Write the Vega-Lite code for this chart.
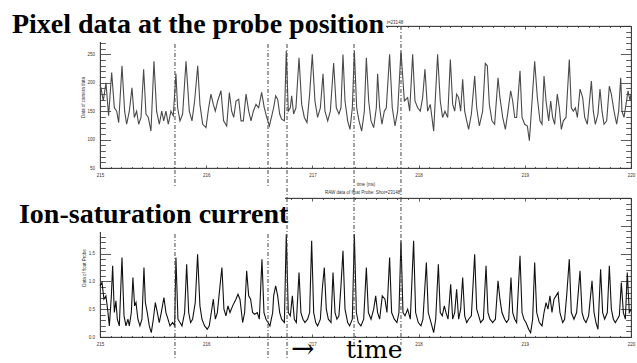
{
  "$schema": "https://vega.github.io/schema/vega-lite/v6.json",
  "padding": 0,
  "autosize": {"type": "pad"},
  "background": "white",
  "bounds": "flush",
  "spacing": 30,
  "config": {
    "view": {"stroke": "#333", "strokeWidth": 0.8},
    "axis": {"labelFont": "Liberation Sans", "labelFontSize": 4.5, "labelColor": "#333", "titleFont": "Liberation Sans", "titleFontSize": 4.5, "titleFontWeight": "normal", "titleColor": "#333", "domainColor": "#333", "tickColor": "#333", "domainWidth": 0.8, "tickWidth": 0.8, "grid": false, "zindex": 0}
  },
  "datasets": {
    "pixel": [
      {"t":215.000,"v":197},{"t":215.009,"v":191},{"t":215.031,"v":168},{"t":215.056,"v":200},{"t":215.081,"v":142},{"t":215.110,"v":218},{"t":215.135,"v":156},{"t":215.157,"v":150},{"t":215.176,"v":130},{"t":215.207,"v":230},{"t":215.232,"v":150},{"t":215.251,"v":127},{"t":215.276,"v":150},{"t":215.301,"v":191},{"t":215.323,"v":139},{"t":215.345,"v":150},{"t":215.364,"v":127},{"t":215.386,"v":139},{"t":215.411,"v":224},{"t":215.433,"v":145},{"t":215.455,"v":139},{"t":215.480,"v":115},{"t":215.508,"v":238},{"t":215.533,"v":150},{"t":215.559,"v":127},{"t":215.581,"v":150},{"t":215.600,"v":133},{"t":215.621,"v":150},{"t":215.643,"v":127},{"t":215.668,"v":150},{"t":215.690,"v":142},{"t":215.715,"v":216},{"t":215.731,"v":156},{"t":215.753,"v":133},{"t":215.778,"v":145},{"t":215.810,"v":238},{"t":215.841,"v":150},{"t":215.866,"v":133},{"t":215.891,"v":168},{"t":215.920,"v":230},{"t":215.941,"v":162},{"t":215.967,"v":127},{"t":215.998,"v":121},{"t":216.023,"v":156},{"t":216.045,"v":180},{"t":216.067,"v":162},{"t":216.086,"v":150},{"t":216.108,"v":168},{"t":216.139,"v":186},{"t":216.164,"v":133},{"t":216.193,"v":124},{"t":216.218,"v":183},{"t":216.240,"v":150},{"t":216.259,"v":139},{"t":216.281,"v":168},{"t":216.306,"v":171},{"t":216.328,"v":133},{"t":216.350,"v":133},{"t":216.375,"v":180},{"t":216.400,"v":150},{"t":216.422,"v":133},{"t":216.444,"v":150},{"t":216.469,"v":162},{"t":216.494,"v":156},{"t":216.522,"v":183},{"t":216.547,"v":156},{"t":216.570,"v":139},{"t":216.595,"v":124},
      {"t":216.635,"v":156},{"t":216.654,"v":177},{"t":216.673,"v":171},{"t":216.692,"v":145},{"t":216.710,"v":136},{"t":216.736,"v":133},{"t":216.754,"v":256},{"t":216.773,"v":150},{"t":216.792,"v":156},{"t":216.805,"v":177},{"t":216.823,"v":145},{"t":216.845,"v":156},{"t":216.874,"v":244},{"t":216.899,"v":162},{"t":216.924,"v":139},{"t":216.949,"v":130},{"t":216.974,"v":180},{"t":216.999,"v":250},{"t":217.024,"v":168},{"t":217.049,"v":139},{"t":217.075,"v":156},{"t":217.100,"v":216},{"t":217.118,"v":150},{"t":217.144,"v":133},{"t":217.169,"v":150},{"t":217.200,"v":235},{"t":217.225,"v":156},{"t":217.250,"v":145},{"t":217.269,"v":156},{"t":217.288,"v":250},{"t":217.307,"v":168},{"t":217.332,"v":133},{"t":217.354,"v":118},{"t":217.376,"v":156},{"t":217.395,"v":256},{"t":217.417,"v":156},{"t":217.439,"v":133},{"t":217.464,"v":115},{"t":217.489,"v":150},{"t":217.508,"v":244},{"t":217.530,"v":168},{"t":217.552,"v":133},{"t":217.577,"v":121},{"t":217.602,"v":156},{"t":217.614,"v":216},{"t":217.633,"v":156},{"t":217.655,"v":127},{"t":217.677,"v":150},{"t":217.696,"v":156},{"t":217.727,"v":250},{"t":217.752,"v":156},{"t":217.778,"v":124},{"t":217.803,"v":150},{"t":217.834,"v":256},{"t":217.866,"v":168},{"t":217.897,"v":174},{"t":217.916,"v":150},{"t":217.944,"v":250},{"t":217.966,"v":168},{"t":217.991,"v":156},{"t":218.016,"v":150},{"t":218.038,"v":174},{"t":218.060,"v":224},{"t":218.085,"v":150},{"t":218.110,"v":162},{"t":218.142,"v":115},{"t":218.179,"v":250},{"t":218.204,"v":168},{"t":218.226,"v":139},{"t":218.248,"v":150},
      {"t":218.274,"v":139},{"t":218.299,"v":241},{"t":218.321,"v":162},{"t":218.340,"v":150},{"t":218.358,"v":180},{"t":218.377,"v":174},{"t":218.396,"v":150},{"t":218.415,"v":206},{"t":218.434,"v":150},{"t":218.453,"v":133},{"t":218.471,"v":118},{"t":218.497,"v":145},{"t":218.528,"v":212},{"t":218.547,"v":156},{"t":218.572,"v":124},{"t":218.603,"v":150},{"t":218.628,"v":234},{"t":218.647,"v":230},{"t":218.666,"v":162},{"t":218.691,"v":133},{"t":218.716,"v":127},{"t":218.748,"v":209},{"t":218.766,"v":174},{"t":218.792,"v":139},{"t":218.817,"v":118},{"t":218.842,"v":150},{"t":218.867,"v":186},{"t":218.886,"v":168},{"t":218.905,"v":139},{"t":218.923,"v":139},{"t":218.955,"v":221},{"t":218.974,"v":139},{"t":218.999,"v":127},{"t":219.024,"v":124},{"t":219.043,"v":98},{"t":219.062,"v":150},{"t":219.093,"v":238},{"t":219.118,"v":174},{"t":219.143,"v":133},{"t":219.162,"v":127},{"t":219.181,"v":212},{"t":219.200,"v":168},{"t":219.225,"v":133},{"t":219.244,"v":168},{"t":219.262,"v":139},{"t":219.281,"v":127},{"t":219.306,"v":180},{"t":219.325,"v":156},{"t":219.344,"v":118},{"t":219.363,"v":133},{"t":219.388,"v":139},{"t":219.419,"v":241},{"t":219.438,"v":156},{"t":219.457,"v":150},{"t":219.476,"v":156},{"t":219.495,"v":139},{"t":219.520,"v":189},{"t":219.545,"v":174},{"t":219.564,"v":139},{"t":219.589,"v":127},{"t":219.627,"v":203},{"t":219.645,"v":150},{"t":219.664,"v":127},{"t":219.689,"v":145},{"t":219.708,"v":189},{"t":219.727,"v":150},{"t":219.746,"v":127},{"t":219.771,"v":133},{"t":219.796,"v":194},{"t":219.815,"v":180},{"t":219.840,"v":150},{"t":219.865,"v":127},{"t":219.884,"v":150},{"t":219.903,"v":209},{"t":219.915,"v":150},{"t":219.934,"v":139},{"t":219.953,"v":162},{"t":219.972,"v":186},{"t":219.991,"v":168},{"t":220.000,"v":180}
    ],
    "probe": [
      {"t":215.000,"v":0.92},{"t":215.019,"v":0.98},{"t":215.037,"v":0.68},{"t":215.056,"v":0.74},{"t":215.075,"v":0.44},{"t":215.088,"v":0.20},{"t":215.107,"v":0.74},{"t":215.119,"v":1.28},{"t":215.135,"v":0.44},{"t":215.150,"v":0.65},{"t":215.163,"v":0.32},{"t":215.182,"v":0.20},{"t":215.207,"v":1.43},{"t":215.226,"v":0.38},{"t":215.245,"v":0.20},{"t":215.263,"v":0.32},{"t":215.276,"v":0.20},{"t":215.295,"v":0.44},{"t":215.310,"v":1.07},{"t":215.326,"v":0.56},{"t":215.339,"v":0.62},{"t":215.357,"v":0.32},{"t":215.376,"v":0.20},{"t":215.395,"v":0.32},{"t":215.414,"v":1.25},{"t":215.427,"v":0.62},{"t":215.445,"v":0.44},{"t":215.464,"v":0.20},{"t":215.483,"v":0.08},{"t":215.502,"v":0.32},{"t":215.521,"v":0.62},{"t":215.540,"v":0.44},{"t":215.558,"v":0.26},{"t":215.577,"v":0.44},{"t":215.602,"v":0.71},{"t":215.621,"v":0.44},{"t":215.640,"v":0.32},{"t":215.659,"v":0.20},{"t":215.684,"v":0.26},{"t":215.703,"v":0.20},{"t":215.715,"v":1.43},{"t":215.734,"v":0.32},{"t":215.753,"v":0.26},{"t":215.772,"v":0.20},{"t":215.797,"v":0.44},{"t":215.816,"v":1.31},{"t":215.835,"v":0.44},{"t":215.853,"v":0.26},{"t":215.872,"v":0.32},{"t":215.897,"v":0.62},{"t":215.919,"v":1.49},{"t":215.941,"v":0.56},{"t":215.960,"v":0.32},{"t":215.985,"v":0.20},{"t":216.010,"v":0.14},{"t":216.029,"v":0.20},{"t":216.048,"v":0.44},{"t":216.067,"v":0.68},{"t":216.086,"v":0.32},{"t":216.105,"v":0.44},{"t":216.130,"v":0.92},{"t":216.148,"v":1.25},{"t":216.167,"v":0.50},{"t":216.186,"v":0.38},{"t":216.205,"v":0.56},{"t":216.224,"v":0.44},{"t":216.249,"v":0.56},{"t":216.280,"v":0.68},{"t":216.299,"v":0.77},{"t":216.318,"v":0.68},{"t":216.343,"v":0.26},{"t":216.362,"v":0.44},{"t":216.381,"v":1.19},{"t":216.400,"v":0.74},{"t":216.418,"v":0.68},{"t":216.437,"v":0.44},{"t":216.456,"v":0.41},{"t":216.481,"v":0.44},{"t":216.500,"v":0.32},{"t":216.525,"v":1.40},{"t":216.544,"v":0.44},{"t":216.563,"v":0.32},{"t":216.582,"v":0.26},{"t":216.600,"v":0.20},{"t":216.626,"v":0.44},
      {"t":216.635,"v":0.74},{"t":216.654,"v":0.92},{"t":216.673,"v":0.74},{"t":216.692,"v":0.44},{"t":216.710,"v":0.32},{"t":216.736,"v":0.26},{"t":216.754,"v":1.85},{"t":216.773,"v":0.44},{"t":216.792,"v":0.38},{"t":216.811,"v":0.74},{"t":216.830,"v":0.32},{"t":216.849,"v":0.26},{"t":216.874,"v":1.16},{"t":216.892,"v":0.44},{"t":216.911,"v":0.32},{"t":216.930,"v":0.26},{"t":216.955,"v":0.32},{"t":216.974,"v":0.44},{"t":216.993,"v":1.73},{"t":217.012,"v":0.44},{"t":217.031,"v":0.26},{"t":217.049,"v":0.20},{"t":217.075,"v":0.32},{"t":217.093,"v":0.86},{"t":217.112,"v":1.25},{"t":217.131,"v":0.50},{"t":217.150,"v":0.32},{"t":217.175,"v":0.26},{"t":217.194,"v":1.16},{"t":217.213,"v":0.44},{"t":217.231,"v":0.32},{"t":217.250,"v":0.38},{"t":217.269,"v":0.92},{"t":217.288,"v":1.55},{"t":217.307,"v":0.50},{"t":217.332,"v":0.26},{"t":217.351,"v":0.20},{"t":217.376,"v":0.32},{"t":217.395,"v":1.85},{"t":217.414,"v":0.44},{"t":217.432,"v":0.26},{"t":217.457,"v":0.20},{"t":217.483,"v":0.32},{"t":217.508,"v":1.25},{"t":217.527,"v":0.44},{"t":217.552,"v":0.32},{"t":217.577,"v":0.50},{"t":217.596,"v":0.74},{"t":217.614,"v":0.44},{"t":217.633,"v":0.32},{"t":217.658,"v":0.74},{"t":217.683,"v":0.68},{"t":217.702,"v":0.44},{"t":217.727,"v":1.43},{"t":217.746,"v":0.44},{"t":217.771,"v":0.32},{"t":217.796,"v":0.26},{"t":217.815,"v":0.44},{"t":217.834,"v":1.73},{"t":217.853,"v":0.44},{"t":217.872,"v":0.38},{"t":217.897,"v":0.50},{"t":217.922,"v":0.32},{"t":217.953,"v":1.73},{"t":217.972,"v":0.44},{"t":217.997,"v":0.26},{"t":218.022,"v":0.20},{"t":218.041,"v":0.32},{"t":218.073,"v":1.34},{"t":218.091,"v":0.44},{"t":218.117,"v":0.26},{"t":218.142,"v":0.08},{"t":218.161,"v":0.32},{"t":218.186,"v":1.31},{"t":218.204,"v":0.44},{"t":218.223,"v":0.38},{"t":218.242,"v":0.56},
      {"t":218.258,"v":0.44},{"t":218.277,"v":0.32},{"t":218.302,"v":0.95},{"t":218.321,"v":0.32},{"t":218.340,"v":0.44},{"t":218.358,"v":0.86},{"t":218.377,"v":0.32},{"t":218.396,"v":0.50},{"t":218.415,"v":1.07},{"t":218.434,"v":0.38},{"t":218.453,"v":0.26},{"t":218.471,"v":0.32},{"t":218.497,"v":0.38},{"t":218.528,"v":1.49},{"t":218.547,"v":0.50},{"t":218.566,"v":0.38},{"t":218.584,"v":0.26},{"t":218.610,"v":0.32},{"t":218.635,"v":1.28},{"t":218.653,"v":0.44},{"t":218.672,"v":0.32},{"t":218.697,"v":0.26},{"t":218.723,"v":0.32},{"t":218.748,"v":1.01},{"t":218.766,"v":0.68},{"t":218.785,"v":0.44},{"t":218.810,"v":0.32},{"t":218.829,"v":0.26},{"t":218.848,"v":0.32},{"t":218.870,"v":1.07},{"t":218.886,"v":0.44},{"t":218.905,"v":0.32},{"t":218.923,"v":0.26},{"t":218.955,"v":1.46},{"t":218.974,"v":0.44},{"t":218.992,"v":0.32},{"t":219.011,"v":0.26},{"t":219.036,"v":0.14},{"t":219.055,"v":0.08},{"t":219.074,"v":0.32},{"t":219.093,"v":1.34},{"t":219.112,"v":0.44},{"t":219.137,"v":0.26},{"t":219.162,"v":0.20},{"t":219.181,"v":0.44},{"t":219.200,"v":0.62},{"t":219.218,"v":0.50},{"t":219.237,"v":0.74},{"t":219.256,"v":0.44},{"t":219.275,"v":0.68},{"t":219.294,"v":0.74},{"t":219.313,"v":0.80},{"t":219.331,"v":0.44},{"t":219.357,"v":0.26},{"t":219.375,"v":0.32},{"t":219.394,"v":0.74},{"t":219.419,"v":1.40},{"t":219.438,"v":0.44},{"t":219.463,"v":0.32},{"t":219.488,"v":0.44},{"t":219.520,"v":1.19},{"t":219.539,"v":0.44},{"t":219.557,"v":0.32},{"t":219.576,"v":0.26},{"t":219.601,"v":0.38},{"t":219.633,"v":1.01},{"t":219.652,"v":0.44},{"t":219.670,"v":0.26},{"t":219.689,"v":0.14},{"t":219.714,"v":1.22},{"t":219.733,"v":0.44},{"t":219.752,"v":0.32},{"t":219.777,"v":0.44},{"t":219.796,"v":1.28},{"t":219.815,"v":0.50},{"t":219.834,"v":0.32},{"t":219.852,"v":0.26},{"t":219.871,"v":0.32},{"t":219.890,"v":0.38},{"t":219.909,"v":0.98},{"t":219.928,"v":0.44},{"t":219.947,"v":0.32},{"t":219.965,"v":1.16},{"t":219.984,"v":0.44},{"t":220.000,"v":0.50}
    ]
  },
  "vconcat": [
    {
      "width": 531,
      "height": 142,
      "resolve": {"axis": {"x": "independent", "y": "independent"}},
      "layer": [
        {
          "data": {"name": "pixel"},
          "mark": {"type": "line", "color": "#4a4a4a", "strokeWidth": 1.1},
          "encoding": {
            "x": {"field": "t", "type": "quantitative", "scale": {"domain": [215, 220], "nice": false, "zero": false},
                  "axis": {"orient": "bottom", "tickCount": 50,
                           "tickSize": {"condition": {"test": "abs(datum.value - round(datum.value)) < 0.001", "value": -3}, "value": -1.5},
                           "labelExpr": "abs(datum.value - round(datum.value)) < 0.001 ? format(datum.value, 'd') : ''",
                           "labelFlush": false, "labelOverlap": false, "labelPadding": 7, "title": "time (ms)", "titlePadding": 3}},
            "y": {"field": "v", "type": "quantitative", "scale": {"domain": [50, 300], "nice": false, "zero": false},
                  "axis": {"orient": "left", "tickCount": 25,
                           "tickSize": {"condition": {"test": "abs(datum.value/50 - round(datum.value/50)) < 0.001", "value": -10.6}, "value": -5.3},
                           "labelExpr": "abs(datum.value/50 - round(datum.value/50)) < 0.001 ? format(datum.value, 'd') : ''",
                           "labelOverlap": false, "labelPadding": 16, "title": "Data of camera data", "titlePadding": 2}}
          }
        },
        {
          "data": {"name": "pixel"},
          "mark": {"type": "line", "strokeOpacity": 0},
          "encoding": {
            "x": {"field": "t", "type": "quantitative", "scale": {"domain": [215, 220], "nice": false, "zero": false},
                  "axis": {"orient": "top", "tickCount": 50, "labels": false, "title": null,
                           "tickSize": {"condition": {"test": "abs(datum.value - round(datum.value)) < 0.001", "value": -3}, "value": -1.5}}},
            "y": {"field": "v", "type": "quantitative", "scale": {"domain": [50, 300], "nice": false, "zero": false},
                  "axis": {"orient": "right", "tickCount": 25, "labels": false, "title": null,
                           "tickSize": {"condition": {"test": "abs(datum.value/50 - round(datum.value/50)) < 0.001", "value": -10.6}, "value": -5.3}}}
          }
        },
        {
          "data": {"values": [{"t": 215.706}, {"t": 216.582}, {"t": 216.761}, {"t": 217.392}, {"t": 217.834}]},
          "mark": {"type": "rule", "color": "#444", "strokeWidth": 1, "strokeDash": [4, 2, 1, 2]},
          "encoding": {
            "x": {"field": "t", "type": "quantitative", "scale": {"domain": [215, 220], "nice": false, "zero": false}, "axis": null},
            "y": {"datum": 300, "type": "quantitative", "scale": {"domain": [50, 300], "nice": false, "zero": false}, "axis": null},
            "y2": {"datum": -2.8}
          }
        },
        {
          "data": {"values": [{}]},
          "mark": {"type": "rect", "color": "white"},
          "encoding": {
            "x": {"datum": 214.068, "type": "quantitative", "scale": {"domain": [215, 220], "nice": false, "zero": false}, "axis": null},
            "x2": {"datum": 217.693},
            "y": {"datum": 344.0, "type": "quantitative", "scale": {"domain": [50, 300], "nice": false, "zero": false}, "axis": null},
            "y2": {"datum": 271.8}
          }
        },
        {
          "data": {"values": [{}]},
          "mark": {"type": "text", "text": "Pixel data at the probe position", "font": "Liberation Serif", "fontSize": 28, "fontWeight": "bold", "align": "left", "baseline": "alphabetic", "color": "black"},
          "encoding": {
            "x": {"datum": 214.171, "type": "quantitative", "scale": {"domain": [215, 220], "nice": false, "zero": false}, "axis": null},
            "y": {"datum": 287.7, "type": "quantitative", "scale": {"domain": [50, 300], "nice": false, "zero": false}, "axis": null}
          }
        },
        {
          "data": {"values": [{}]},
          "mark": {"type": "text", "text": "t=23148", "font": "Liberation Sans", "fontSize": 4.5, "align": "left", "baseline": "alphabetic", "color": "#333"},
          "encoding": {
            "x": {"datum": 217.7, "type": "quantitative", "scale": {"domain": [215, 220], "nice": false, "zero": false}, "axis": null},
            "y": {"datum": 303.5, "type": "quantitative", "scale": {"domain": [50, 300], "nice": false, "zero": false}, "axis": null}
          }
        }
      ]
    },
    {
      "width": 531,
      "height": 139,
      "resolve": {"axis": {"x": "independent", "y": "independent"}},
      "layer": [
        {
          "data": {"name": "probe"},
          "mark": {"type": "line", "color": "#111", "strokeWidth": 1.1},
          "encoding": {
            "x": {"field": "t", "type": "quantitative", "scale": {"domain": [215, 220], "nice": false, "zero": false},
                  "axis": {"orient": "bottom", "tickCount": 50,
                           "tickSize": {"condition": {"test": "abs(datum.value - round(datum.value)) < 0.001", "value": -3}, "value": -1.5},
                           "labelExpr": "abs(datum.value - round(datum.value)) < 0.001 ? format(datum.value, 'd') : ''",
                           "labelFlush": false, "labelOverlap": false, "labelPadding": 7, "title": null}},
            "y": {"field": "v", "type": "quantitative", "scale": {"domain": [0, 2.5], "nice": false, "zero": false},
                  "axis": {"orient": "left", "tickCount": 25,
                           "tickSize": {"condition": {"test": "abs(datum.value*2 - round(datum.value*2)) < 0.001", "value": -10.6}, "value": -5.3},
                           "labelExpr": "abs(datum.value*2 - round(datum.value*2)) < 0.001 ? format(datum.value, '.1f') : ''",
                           "labelOverlap": false, "labelPadding": 16, "title": "Data of float Probe", "titlePadding": 2}}
          }
        },
        {
          "data": {"name": "probe"},
          "mark": {"type": "line", "strokeOpacity": 0},
          "encoding": {
            "x": {"field": "t", "type": "quantitative", "scale": {"domain": [215, 220], "nice": false, "zero": false},
                  "axis": {"orient": "top", "tickCount": 50, "labels": false, "title": null,
                           "tickSize": {"condition": {"test": "abs(datum.value - round(datum.value)) < 0.001", "value": -3}, "value": -1.5}}},
            "y": {"field": "v", "type": "quantitative", "scale": {"domain": [0, 2.5], "nice": false, "zero": false},
                  "axis": {"orient": "right", "tickCount": 25, "labels": false, "title": null,
                           "tickSize": {"condition": {"test": "abs(datum.value*2 - round(datum.value*2)) < 0.001", "value": -10.6}, "value": -5.3}}}
          }
        },
        {
          "data": {"values": [{"t": 215.706}, {"t": 216.582}, {"t": 216.761}]},
          "mark": {"type": "rule", "color": "#444", "strokeWidth": 1, "strokeDash": [4, 2, 1, 2]},
          "encoding": {
            "x": {"field": "t", "type": "quantitative", "scale": {"domain": [215, 220], "nice": false, "zero": false}, "axis": null},
            "y": {"datum": 2.5, "type": "quantitative", "scale": {"domain": [0, 2.5], "nice": false, "zero": false}, "axis": null},
            "y2": {"datum": -0.396}
          }
        },
        {
          "data": {"values": [{"t": 217.392}, {"t": 217.834}]},
          "mark": {"type": "rule", "color": "#444", "strokeWidth": 1, "strokeDash": [4, 2, 1, 2]},
          "encoding": {
            "x": {"field": "t", "type": "quantitative", "scale": {"domain": [215, 220], "nice": false, "zero": false}, "axis": null},
            "y": {"datum": 2.5, "type": "quantitative", "scale": {"domain": [0, 2.5], "nice": false, "zero": false}, "axis": null},
            "y2": {"datum": -0.14}
          }
        },
        {
          "data": {"values": [{}]},
          "mark": {"type": "rect", "color": "white"},
          "encoding": {
            "x": {"datum": 214.068, "type": "quantitative", "scale": {"domain": [215, 220], "nice": false, "zero": false}, "axis": null},
            "x2": {"datum": 216.742},
            "y": {"datum": 2.698, "type": "quantitative", "scale": {"domain": [0, 2.5], "nice": false, "zero": false}, "axis": null},
            "y2": {"datum": 1.888}
          }
        },
        {
          "data": {"values": [{}]},
          "mark": {"type": "text", "text": "Ion-saturation current", "font": "Liberation Serif", "fontSize": 28, "fontWeight": "bold", "align": "left", "baseline": "alphabetic", "color": "black"},
          "encoding": {
            "x": {"datum": 214.237, "type": "quantitative", "scale": {"domain": [215, 220], "nice": false, "zero": false}, "axis": null},
            "y": {"datum": 2.05, "type": "quantitative", "scale": {"domain": [0, 2.5], "nice": false, "zero": false}, "axis": null}
          }
        },
        {
          "data": {"values": [{}]},
          "mark": {"type": "text", "text": "RAW data of float Probe: Shot=23148", "font": "Liberation Sans", "fontSize": 4.5, "align": "center", "baseline": "alphabetic", "color": "#333"},
          "encoding": {
            "x": {"datum": 217.472, "type": "quantitative", "scale": {"domain": [215, 220], "nice": false, "zero": false}, "axis": null},
            "y": {"datum": 2.58, "type": "quantitative", "scale": {"domain": [0, 2.5], "nice": false, "zero": false}, "axis": null}
          }
        },
        {
          "data": {"values": [{}]},
          "mark": {"type": "text", "text": "→", "font": "DejaVu Serif", "fontSize": 28, "align": "left", "baseline": "middle", "color": "black"},
          "encoding": {
            "x": {"datum": 216.798, "type": "quantitative", "scale": {"domain": [215, 220], "nice": false, "zero": false}, "axis": null},
            "y": {"datum": -0.225, "type": "quantitative", "scale": {"domain": [0, 2.5], "nice": false, "zero": false}, "axis": null}
          }
        },
        {
          "data": {"values": [{}]},
          "mark": {"type": "text", "text": "time", "font": "DejaVu Serif", "fontSize": 25, "align": "left", "baseline": "alphabetic", "color": "black"},
          "encoding": {
            "x": {"datum": 217.316, "type": "quantitative", "scale": {"domain": [215, 220], "nice": false, "zero": false}, "axis": null},
            "y": {"datum": -0.378, "type": "quantitative", "scale": {"domain": [0, 2.5], "nice": false, "zero": false}, "axis": null}
          }
        }
      ]
    }
  ]
}
